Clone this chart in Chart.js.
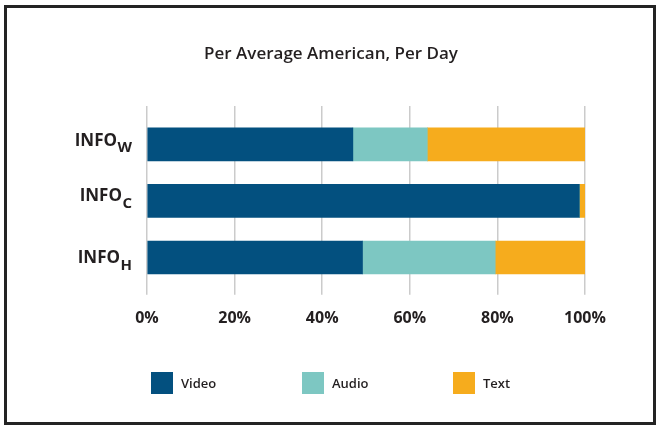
<!DOCTYPE html>
<html>
<head>
<meta charset="utf-8">
<script src="https://cdn.jsdelivr.net/npm/chart.js@4/dist/chart.umd.min.js"></script>
<style>
  html, body { margin: 0; padding: 0; background: #fff; }
  #wrap { position: relative; width: 662px; height: 430px; overflow: hidden; }
  #frame { position: absolute; left: 4px; top: 5px; width: 652px; height: 420px; box-sizing: border-box; border: 3px solid #232323; }
  #c { position: absolute; left: 0; top: 0; }
  #legend { position: absolute; left: 151px; top: 372px; display: flex; font-family: "Open Sans", sans-serif; font-weight: 600; font-size: 13px; color: #231f20; }
  #legend .item { display: flex; align-items: center; width: 151px; }
  #legend .box { width: 22px; height: 22px; margin-right: 8px; }
</style>
</head>
<body>
<div id="wrap">
  <div id="frame"></div>
  <canvas id="c" width="662" height="430"></canvas>
  <div id="legend"></div>
</div>
<script>
// ---- data ----
const categories = ['INFO_W', 'INFO_C', 'INFO_H'];
const categoryMain = ['INFO', 'INFO', 'INFO'];
const categorySub = ['W', 'C', 'H'];
const seriesNames = ['Video', 'Audio', 'Text'];
const videoValues = [47, 98.7, 49.2];
const audioValues = [17, 0, 30.3];
const textValues = [36, 1.3, 20.5];
const xTickLabels = ['0%', '20%', '40%', '60%', '80%', '100%'];

// ---- style ----
const colors = ['#03507f', '#7dc7c2', '#f6ac1d'];
const gridColor = 'rgba(190,190,190,0.8)';
const textColor = '#231f20';
const FONT = '"Open Sans", sans-serif';

const yLabelPlugin = {
  id: 'yLabels',
  afterDraw(chart, args, opts) {
    const ctx = chart.ctx;
    const y = chart.scales.y;
    ctx.save();
    ctx.fillStyle = textColor;
    ctx.textBaseline = 'alphabetic';
    categories.forEach((c, i) => {
      const py = y.getPixelForValue(i) + opts.nudge[i];
      ctx.font = 'bold 15px ' + FONT;
      const subW = ctx.measureText(categorySub[i]).width;
      ctx.textAlign = 'right';
      ctx.fillText(categorySub[i], opts.right, py + 13);
      ctx.font = 'bold 17px ' + FONT;
      ctx.fillText(categoryMain[i], opts.right - subW - 0.5, py + 6.2);
    });
    ctx.restore();
  }
};

const htmlLegendPlugin = {
  id: 'htmlLegend',
  afterUpdate(chart) {
    const el = document.getElementById('legend');
    el.innerHTML = '';
    chart.data.datasets.forEach(ds => {
      const item = document.createElement('div');
      item.className = 'item';
      const box = document.createElement('span');
      box.className = 'box';
      box.style.background = ds.backgroundColor;
      const t = document.createElement('span');
      t.textContent = ds.label;
      item.appendChild(box);
      item.appendChild(t);
      el.appendChild(item);
    });
  }
};

const values = [videoValues, audioValues, textValues];

new Chart(document.getElementById('c'), {
  type: 'bar',
  data: {
    labels: categories,
    datasets: seriesNames.map((n, i) => ({
      label: n,
      data: values[i],
      backgroundColor: colors[i],
      borderWidth: 0,
      barThickness: 33
    }))
  },
  options: {
    indexAxis: 'y',
    responsive: false,
    animation: false,
    devicePixelRatio: 1,
    layout: { padding: { left: 0, right: 0, top: 0, bottom: 88 } },
    plugins: {
      legend: { display: false },
      tooltip: { enabled: false },
      title: {
        display: true,
        text: 'Per Average American, Per Day',
        color: textColor,
        font: { family: FONT, size: 17, weight: '600' },
        padding: { top: 44, bottom: 41.6 }
      },
      yLabels: { right: 132, nudge: [-5, -6, -0.5] }
    },
    scales: {
      x: {
        stacked: true,
        min: 0, max: 100,
        position: 'bottom',
        z: 1,
        border: { display: false },
        grid: { color: gridColor, lineWidth: 1.5, tickLength: 9, tickColor: gridColor },
        ticks: {
          stepSize: 20,
          padding: 14,
          color: textColor,
          font: { family: FONT, size: 16, weight: 'bold' },
          callback: (v, i) => xTickLabels[i]
        }
      },
      xTop: {
        type: 'linear',
        axis: 'x',
        position: 'top',
        min: 0, max: 100,
        border: { display: false },
        grid: { drawOnChartArea: false, color: gridColor, lineWidth: 1.5, tickLength: 10, tickColor: gridColor },
        ticks: { stepSize: 20, display: false }
      },
      y: {
        stacked: true,
        position: 'left',
        border: { display: false },
        grid: { display: false },
        ticks: { display: false },
        afterFit(s) { s.width = 147; }
      },
      yRight: {
        type: 'category',
        axis: 'y',
        position: 'right',
        border: { display: false },
        grid: { display: false },
        ticks: { display: false },
        afterFit(s) { s.width = 77; }
      }
    }
  },
  plugins: [yLabelPlugin, htmlLegendPlugin]
});
</script>
</body>
</html>
